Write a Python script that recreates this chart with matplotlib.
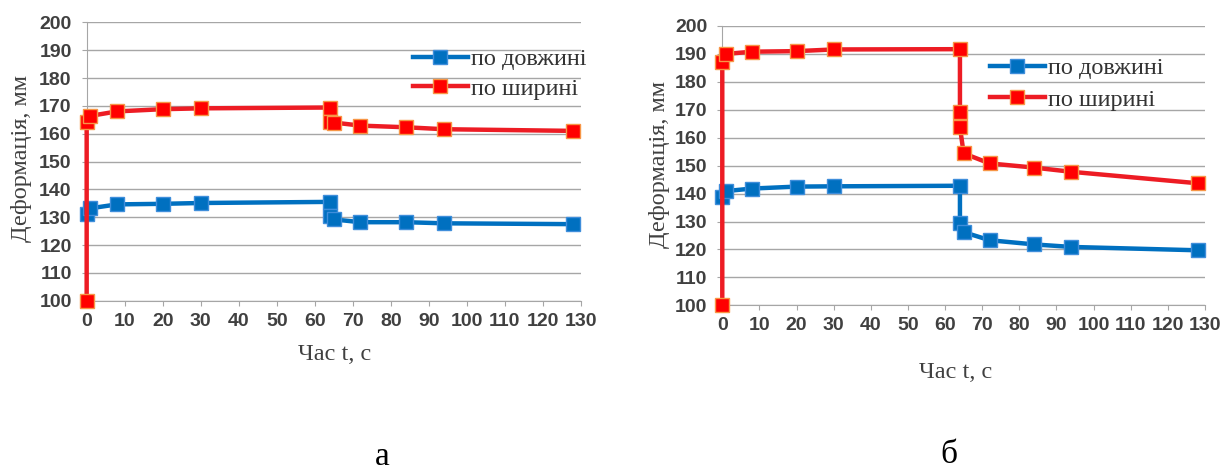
import numpy as np
import matplotlib.pyplot as plt

# час, с та деформація, мм -- (а) ліворуч, (б) праворуч
t_len_a = [0, 1, 8, 20, 30, 64, 64, 65, 72, 84, 94, 128]
len_a = [131.0, 133.2, 134.6, 134.8, 135.1, 135.5, 130.5, 129.2, 128.2, 128.2, 127.8, 127.5]
t_wid_a = [0, 0, 1, 8, 20, 30, 64, 64, 65, 72, 84, 94, 128]
wid_a = [100.0, 164.3, 166.4, 168.0, 168.8, 169.1, 169.4, 164.2, 164.0, 162.9, 162.3, 161.6, 161.0]

t_len_b = [0, 1, 8, 20, 30, 64, 64, 65, 72, 84, 94, 128]
len_b = [138.8, 140.9, 141.8, 142.5, 142.6, 142.8, 129.4, 126.2, 123.3, 121.8, 120.9, 119.7]
t_wid_b = [0, 0, 1, 8, 20, 30, 64, 64, 64, 65, 72, 84, 94, 128]
wid_b = [100.0, 187.0, 190.0, 190.8, 191.0, 191.6, 191.7, 169.2, 163.8, 154.4, 150.8, 149.3, 147.8, 143.7]

xticks = np.arange(0, 131, 10)
yticks = np.arange(100, 201, 10)

grey = "#A6A6A6"
txt = "#404040"
blue = "#0070C0"
red = "#ED1C24"

fig = plt.figure(figsize=(12.24, 4.70), dpi=100)

def draw(ax, tl, yl, tw, yw, leg_pos, leg_sp):
    ax.plot(tl, yl, color=blue, lw=3.2, marker="s", ms=10.5, mfc=blue, mec="#3F8EDB",
            mew=1, label="по довжині", clip_on=False, zorder=3)
    ax.plot(tw, yw, color=red, lw=3.2, marker="s", ms=10.5, mfc="#FF0000", mec="#F79646",
            mew=1, label="по ширині", clip_on=False, zorder=4)
    ax.set_xlim(0, 130); ax.set_ylim(100, 200)
    tk = dict(family="Liberation Sans", fontweight="bold", fontsize=14, color=txt)
    ax.set_xticks(xticks, [str(v) for v in xticks], **tk)
    ax.set_yticks(yticks, [str(v) for v in yticks], **tk)
    ax.grid(axis="y", color=grey, lw=1)
    ax.set_axisbelow(True)
    for s in ["top", "right"]:
        ax.spines[s].set_visible(False)
    for s in ["left", "bottom"]:
        ax.spines[s].set_color(grey)
    ax.tick_params(axis="x", length=3.5, color=grey, pad=5)
    ax.tick_params(axis="y", length=3.8, color=grey, pad=7)
    ax.legend(loc="center left", bbox_to_anchor=leg_pos, bbox_transform=fig.transFigure,
              frameon=False, borderpad=0, borderaxespad=0, handlelength=2.25,
              handletextpad=0.15, labelspacing=leg_sp,
              prop={"family": "Liberation Serif", "size": 17.5},
              labelcolor="#333333")

ax1 = fig.add_axes([0.0708, 0.3602, 0.4038, 0.5923])
draw(ax1, t_len_a, len_a, t_wid_a, wid_a, (0.3374, 0.8426), 0.29)
ax2 = fig.add_axes([0.5901, 0.3504, 0.3944, 0.5943])
draw(ax2, t_len_b, len_b, t_wid_b, wid_b, (0.8088, 0.8217), 0.39)

lab = dict(family="Liberation Serif", size=17.5, color=txt, ha="center", va="center")
fig.text(21/1224, 1-159/470, "Деформація, мм", rotation=90, **lab)
fig.text(660/1224, 1-165/470, "Деформація, мм", rotation=90, **lab)
fig.text(335/1224, 1-355/470, "Час t, с", **lab)
fig.text(956/1224, 1-373/470, "Час t, с", **lab)
fig.text(382/1224, 1-457/470, "а", family="Liberation Serif", size=24, ha="center", va="center")
fig.text(949/1224, 1-455/470, "б", family="Liberation Serif", size=24, ha="center", va="center")

fig.savefig("out.png", dpi=100)
